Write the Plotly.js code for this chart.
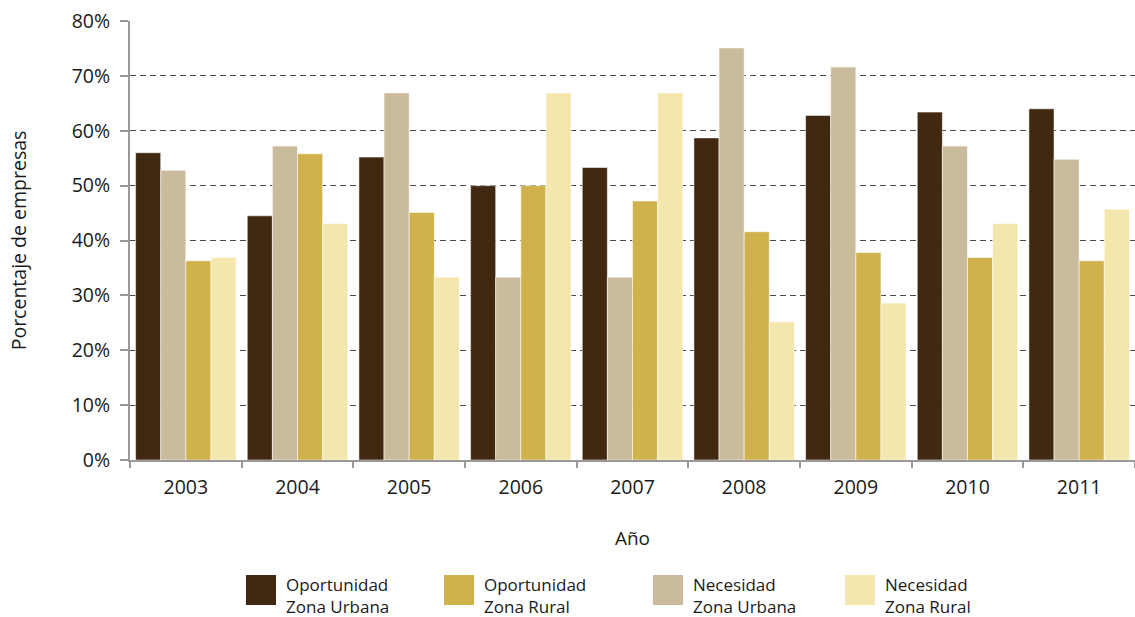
<!DOCTYPE html>
<html>
<head>
<meta charset="utf-8">
<script src="https://cdn.plot.ly/plotly-3.0.1.min.js"></script>
<style>
  html, body { margin: 0; padding: 0; background: #fff; }
  #chart { width: 1135px; height: 617px; }
</style>
</head>
<body>
<div id="chart"></div>
<script>
// Años y porcentajes de empresas por motivación y zona
const years = ['2003', '2004', '2005', '2006', '2007', '2008', '2009', '2010', '2011'];
const oportunidadUrbana = [56.0, 44.5, 55.2, 50.0, 53.3, 58.7, 62.8, 63.4, 64.0];
const necesidadUrbana   = [52.8, 57.2, 66.9, 33.3, 33.3, 75.1, 71.6, 57.2, 54.8];
const oportunidadRural  = [36.3, 55.8, 45.1, 50.0, 47.2, 41.6, 37.8, 36.9, 36.3];
const necesidadRural    = [36.9, 43.1, 33.3, 66.9, 66.9, 25.2, 28.6, 43.1, 45.7];

const seriesNames = {
  ou: ['Oportunidad', 'Zona Urbana'],
  or: ['Oportunidad', 'Zona Rural'],
  nu: ['Necesidad', 'Zona Urbana'],
  nr: ['Necesidad', 'Zona Rural']
};
const colors = { ou: '#402910', or: '#cfb24c', nu: '#cabb9d', nr: '#f3e7ae' };

const FONT = '"Open Sans", "Noto Sans", sans-serif';
const TEXT = '#1a1a1a';
const W = 1135, H = 617;
const M = { l: 130, r: 0, t: 21, b: 157 };

function bar(key, values) {
  return {
    type: 'bar',
    x: years,
    y: values,
    name: seriesNames[key].join(' '),
    marker: { color: colors[key], line: { color: 'rgba(255,255,255,0.55)', width: 1 } },
    showlegend: false,
    hoverinfo: 'x+y'
  };
}

// Draw order inside each year group
const traces = [
  bar('ou', oportunidadUrbana),
  bar('nu', necesidadUrbana),
  bar('or', oportunidadRural),
  bar('nr', necesidadRural)
];

// Legend built from swatches and two-line labels below the axis title
const plotW = W - M.l - M.r, plotH = H - M.t - M.b;
const px = x => (x - M.l) / plotW;
const py = y => (H - M.b - y) / plotH;
const legendOrder = ['ou', 'or', 'nu', 'nr'];
const legendX = [246, 444, 653, 845];
const shapes = [], annotations = [];
legendOrder.forEach((k, i) => {
  const x0 = legendX[i];
  shapes.push({
    type: 'rect', xref: 'paper', yref: 'paper',
    x0: px(x0), x1: px(x0 + 30), y0: py(605), y1: py(575),
    fillcolor: colors[k], line: { width: 0 }
  });
  seriesNames[k].forEach((line, j) => {
    annotations.push({
      xref: 'paper', yref: 'paper', x: px(x0 + 39), y: py(584 + 22 * j),
      xanchor: 'left', yanchor: 'middle', align: 'left',
      text: line, showarrow: false, borderpad: 0,
      font: { family: FONT, size: 17, color: TEXT }
    });
  });
});

const layout = {
  width: W, height: H,
  margin: M,
  paper_bgcolor: '#fff', plot_bgcolor: '#fff',
  font: { family: FONT, size: 18, color: TEXT },
  barmode: 'group',
  bargap: 0.1,
  bargroupgap: 0,
  xaxis: {
    type: 'category',
    range: [-0.5, 8.5],
    tickson: 'boundaries',
    ticks: 'outside', ticklen: 6, tickwidth: 2, tickcolor: '#999',
    showline: true, linecolor: '#999', linewidth: 2,
    showgrid: false,
    ticklabelstandoff: 9,
    tickfont: { family: FONT, size: 19.5, color: TEXT },
    title: { text: 'Año', font: { family: FONT, size: 19, color: TEXT }, standoff: 32 }
  },
  yaxis: {
    range: [0, 80],
    dtick: 10,
    ticksuffix: '%',
    ticks: 'outside', ticklen: 8, tickwidth: 2, tickcolor: '#999',
    showline: true, linecolor: '#999', linewidth: 2,
    showgrid: true, gridcolor: '#4a4a4a', gridwidth: 1, griddash: '6px,4px',
    zeroline: false,
    ticklabelstandoff: 6,
    tickfont: { family: FONT, size: 19.5, color: TEXT },
    title: { text: 'Porcentaje de empresas', font: { family: FONT, size: 19.5, color: TEXT }, standoff: 40 }
  },
  shapes: shapes,
  annotations: annotations
};

Plotly.newPlot('chart', traces, layout, { displayModeBar: false, staticPlot: true });
</script>
</body>
</html>
